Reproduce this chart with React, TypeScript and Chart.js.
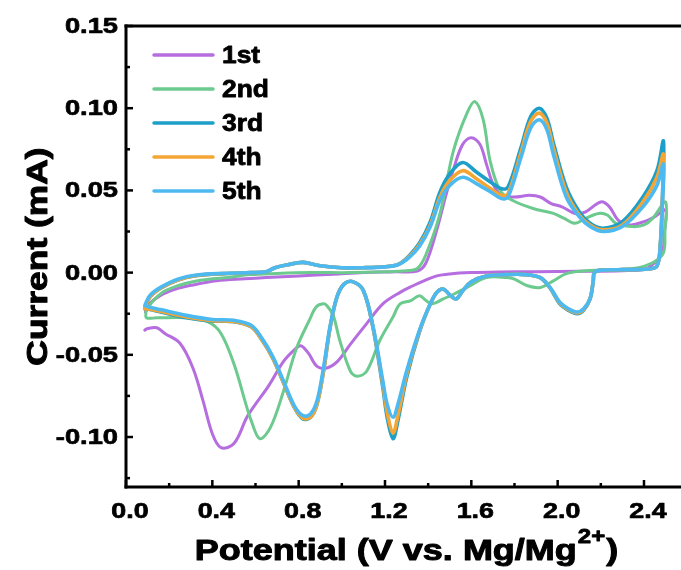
import React, { useEffect, useRef } from "react";
import { Chart, registerables } from "chart.js";

Chart.register(...registerables);

// ---------- axis ticks ----------
const xMajorTicks = [0.0, 0.4, 0.8, 1.2, 1.6, 2.0, 2.4];
const xTickLabels = ["0.0", "0.4", "0.8", "1.2", "1.6", "2.0", "2.4"];
const xMinorTicks = [0.2, 0.6, 1.0, 1.4, 1.8, 2.2];
const yMajorTicks = [-0.1, -0.05, 0.0, 0.05, 0.1, 0.15];
const yTickLabels = ["-0.10", "-0.05", "0.00", "0.05", "0.10", "0.15"];
const yMinorTicks = [-0.125, -0.075, -0.025, 0.025, 0.075, 0.125];

// ---------- series ----------
const seriesNames = ["1st", "2nd", "3rd", "4th", "5th"];
const seriesColors = ["#B56DDF", "#6DCA8E", "#1D9FC9", "#F4A534", "#4DB9F1"];

// 1st cycle
const cycle1Potential = [
  0.09, 0.1, 0.158, 0.23, 0.31, 0.42, 0.55, 0.65, 0.8, 0.96, 1.1, 1.25, 1.35, 1.39, 1.44, 1.48,
  1.52, 1.56, 1.6, 1.64, 1.67, 1.7, 1.74, 1.8, 1.87, 1.92, 1.97, 2.02, 2.08, 2.13, 2.2, 2.24,
  2.28, 2.335, 2.4, 2.45, 2.5, 2.495, 2.485, 2.45, 2.4, 2.3, 2.1, 1.9, 1.73, 1.6, 1.5, 1.44,
  1.38, 1.33, 1.27, 1.19, 1.115, 1.04, 0.98, 0.93, 0.885, 0.845, 0.81, 0.78, 0.73, 0.66,
  0.6, 0.56, 0.5, 0.44, 0.4, 0.357, 0.31, 0.25, 0.18, 0.143, 0.1, 0.087,
];
const cycle1Current = [
  -0.024, -0.02, -0.014, -0.01, -0.0075, -0.005, -0.0038, -0.003, -0.002, -0.001, 0.0, 0.0005,
  0.001, 0.006, 0.026, 0.046, 0.064, 0.078, 0.082, 0.078, 0.066, 0.054, 0.047, 0.046, 0.047,
  0.046, 0.042, 0.04, 0.036, 0.037, 0.043, 0.04, 0.032, 0.029, 0.031, 0.034, 0.038, 0.025,
  0.012, 0.006, 0.002, 0.0012, 0.0008, 0.0006, 0.0004, 0.0, -0.0008, -0.002, -0.005, -0.008,
  -0.012, -0.019, -0.031, -0.0435, -0.054, -0.058, -0.057, -0.049, -0.0445, -0.047, -0.054,
  -0.069, -0.08, -0.088, -0.104, -0.1065, -0.098, -0.078, -0.058, -0.043, -0.037, -0.0335,
  -0.034, -0.035,
];

// 2nd cycle
const cycle2Potential = [
  0.092, 0.12, 0.17, 0.24, 0.31, 0.4, 0.47, 0.575, 0.7, 0.85, 1.04, 1.2, 1.3, 1.35, 1.39, 1.455,
  1.517, 1.58, 1.617, 1.655, 1.687, 1.733, 1.79, 1.886, 1.98, 2.03, 2.08, 2.13, 2.19, 2.23,
  2.27, 2.35, 2.4, 2.44, 2.5, 2.497, 2.49, 2.44, 2.35, 2.2, 2.13, 2.04, 1.98, 1.92, 1.86, 1.8,
  1.765, 1.67, 1.58, 1.52, 1.47, 1.42, 1.39, 1.36, 1.32, 1.27, 1.237, 1.177, 1.115, 1.07, 1.04,
  0.99, 0.96, 0.93, 0.913, 0.88, 0.853, 0.79, 0.73, 0.67, 0.62, 0.58, 0.56, 0.5, 0.44, 0.38,
  0.28, 0.143, 0.095, 0.092,
];
const cycle2Current = [
  -0.024, -0.018, -0.012, -0.008, -0.0055, -0.0038, -0.003, -0.0012, -0.0005, 0.0, 0.0, 0.0005,
  0.0012, 0.0025, 0.011, 0.036, 0.074, 0.097, 0.104, 0.093, 0.068, 0.05, 0.044, 0.039, 0.036,
  0.033, 0.03, 0.033, 0.036, 0.035, 0.03, 0.028, 0.029, 0.033, 0.043, 0.025, 0.012, 0.006,
  0.0025, 0.0015, 0.0012, -0.0006, -0.005, -0.009, -0.008, -0.004, -0.003, -0.003, -0.009,
  -0.013, -0.016, -0.019, -0.017, -0.014, -0.017, -0.019, -0.027, -0.041, -0.06, -0.063, -0.06,
  -0.041, -0.026, -0.02, -0.019, -0.021, -0.028, -0.046, -0.072, -0.094, -0.101, -0.09, -0.082,
  -0.0555, -0.037, -0.03, -0.0275, -0.0275, -0.0275, -0.024,
];

// 3rd cycle
const cycle3Potential = [
  0.087, 0.11, 0.16, 0.24, 0.33, 0.45, 0.58, 0.65, 0.69, 0.75, 0.82, 0.9, 1.0, 1.1, 1.2, 1.26,
  1.31, 1.36, 1.41, 1.455, 1.5, 1.56, 1.625, 1.69, 1.74, 1.77, 1.83, 1.875, 1.915, 1.95, 1.98,
  2.04, 2.1, 2.15, 2.21, 2.3, 2.395, 2.46, 2.49, 2.485, 2.475, 2.46, 2.42, 2.3, 2.2, 2.17,
  2.165, 2.15, 2.12, 2.09, 2.05, 2.01, 1.965, 1.92, 1.85, 1.76, 1.67, 1.6, 1.56, 1.53, 1.5,
  1.47, 1.44, 1.41, 1.36, 1.3, 1.26, 1.237, 1.21, 1.19, 1.145, 1.1, 1.05, 1.01, 0.977, 0.945,
  0.915, 0.885, 0.855, 0.82, 0.78, 0.73, 0.68, 0.63, 0.58, 0.5, 0.4, 0.28, 0.16, 0.11, 0.087,
];
const cycle3Current = [
  -0.022, -0.015, -0.0095, -0.0045, -0.0018, -0.0006, 0.0, 0.0005, 0.003, 0.0048, 0.0062,
  0.0042, 0.003, 0.003, 0.0036, 0.005, 0.01, 0.018, 0.031, 0.049, 0.06, 0.067, 0.061, 0.055,
  0.051, 0.052, 0.076, 0.095, 0.1, 0.094, 0.079, 0.052, 0.037, 0.03, 0.027, 0.031, 0.046,
  0.062, 0.08, 0.045, 0.016, 0.004, 0.0022, 0.0018, 0.0015, 0.0, -0.005, -0.016, -0.023,
  -0.025, -0.023, -0.019, -0.0095, -0.0032, -0.0012, -0.0012, -0.002, -0.0055, -0.011, -0.016,
  -0.0135, -0.01, -0.012, -0.019, -0.036, -0.064, -0.09, -0.101, -0.088, -0.07, -0.034, -0.011,
  -0.0055, -0.007, -0.015, -0.034, -0.06, -0.08, -0.088, -0.089, -0.082, -0.067, -0.052, -0.041,
  -0.033, -0.0298, -0.0295, -0.0275, -0.024, -0.0225, -0.022,
];

// 4th cycle
const cycle4Potential = [
  0.087, 0.11, 0.16, 0.24, 0.33, 0.45, 0.58, 0.65, 0.69, 0.75, 0.82, 0.9, 1.0, 1.1, 1.2, 1.26,
  1.31, 1.36, 1.41, 1.455, 1.5, 1.56, 1.625, 1.69, 1.74, 1.77, 1.83, 1.875, 1.915, 1.95, 1.98,
  2.04, 2.1, 2.15, 2.21, 2.3, 2.395, 2.46, 2.49, 2.485, 2.475, 2.46, 2.42, 2.3, 2.2, 2.17,
  2.165, 2.15, 2.12, 2.09, 2.05, 2.01, 1.965, 1.92, 1.85, 1.76, 1.67, 1.6, 1.56, 1.53, 1.5,
  1.47, 1.44, 1.41, 1.36, 1.3, 1.26, 1.237, 1.21, 1.19, 1.145, 1.1, 1.05, 1.01, 0.977, 0.945,
  0.915, 0.885, 0.855, 0.82, 0.78, 0.73, 0.68, 0.63, 0.58, 0.5, 0.4, 0.28, 0.16, 0.11, 0.087,
];
const cycle4Current = [
  -0.022, -0.015, -0.0095, -0.0045, -0.0017, -0.0006, 0.0, 0.0005, 0.003, 0.0048, 0.0062,
  0.0042, 0.003, 0.003, 0.0036, 0.0049, 0.0095, 0.017, 0.029, 0.046, 0.056, 0.062, 0.057,
  0.051, 0.047, 0.048, 0.073, 0.092, 0.097, 0.091, 0.076, 0.049, 0.035, 0.029, 0.026, 0.029,
  0.043, 0.058, 0.072, 0.042, 0.015, 0.004, 0.0022, 0.0018, 0.0015, 0.0, -0.005, -0.016,
  -0.0225, -0.0245, -0.0225, -0.0185, -0.0092, -0.0031, -0.0012, -0.0012, -0.002, -0.0055,
  -0.011, -0.016, -0.0135, -0.01, -0.012, -0.019, -0.0355, -0.062, -0.087, -0.0975, -0.085,
  -0.068, -0.0335, -0.011, -0.0055, -0.007, -0.015, -0.034, -0.06, -0.08, -0.088, -0.0885,
  -0.082, -0.067, -0.052, -0.041, -0.033, -0.0297, -0.0292, -0.027, -0.0235, -0.0222, -0.022,
];

// 5th cycle
const cycle5Potential = [
  0.087, 0.11, 0.16, 0.24, 0.33, 0.45, 0.58, 0.65, 0.69, 0.75, 0.82, 0.9, 1.0, 1.1, 1.2, 1.26,
  1.31, 1.36, 1.41, 1.455, 1.5, 1.56, 1.625, 1.69, 1.74, 1.77, 1.83, 1.875, 1.915, 1.95, 1.98,
  2.04, 2.1, 2.15, 2.21, 2.3, 2.395, 2.46, 2.49, 2.485, 2.475, 2.46, 2.42, 2.3, 2.2, 2.17,
  2.165, 2.15, 2.12, 2.09, 2.05, 2.01, 1.965, 1.92, 1.85, 1.76, 1.67, 1.6, 1.56, 1.53, 1.5,
  1.47, 1.44, 1.41, 1.36, 1.3, 1.26, 1.237, 1.21, 1.19, 1.145, 1.1, 1.05, 1.01, 0.977, 0.945,
  0.915, 0.885, 0.855, 0.82, 0.78, 0.73, 0.68, 0.63, 0.58, 0.5, 0.4, 0.28, 0.16, 0.11, 0.087,
];
const cycle5Current = [
  -0.02, -0.014, -0.009, -0.004, -0.0015, -0.0005, 0.0, 0.0005, 0.003, 0.0048, 0.0062, 0.0042,
  0.003, 0.003, 0.0035, 0.0048, 0.009, 0.016, 0.028, 0.044, 0.053, 0.058, 0.054, 0.049, 0.045,
  0.046, 0.07, 0.088, 0.093, 0.087, 0.072, 0.046, 0.034, 0.028, 0.025, 0.028, 0.04, 0.053,
  0.066, 0.04, 0.015, 0.004, 0.0022, 0.0018, 0.0015, 0.0, -0.005, -0.016, -0.022, -0.024,
  -0.022, -0.018, -0.009, -0.003, -0.0012, -0.0012, -0.002, -0.0055, -0.011, -0.016, -0.0135,
  -0.01, -0.012, -0.019, -0.035, -0.06, -0.08, -0.088, -0.08, -0.066, -0.033, -0.011, -0.0055,
  -0.007, -0.015, -0.033, -0.058, -0.078, -0.086, -0.087, -0.081, -0.066, -0.051, -0.04,
  -0.032, -0.029, -0.0285, -0.026, -0.0225, -0.021, -0.02,
];

const potentials = [cycle1Potential, cycle2Potential, cycle3Potential, cycle4Potential, cycle5Potential];
const currents = [cycle1Current, cycle2Current, cycle3Current, cycle4Current, cycle5Current];

const X_MIN = 0.0;
const X_MAX = 2.5715;
const Y_MIN = -0.1304;
const Y_MAX = 0.15;

const FONT = "'Liberation Sans', Arial, Helvetica, sans-serif";

function drawStretched(
  ctx: CanvasRenderingContext2D,
  text: string,
  x: number,
  y: number,
  sx: number,
  align: "left" | "center" | "right",
  weight = 0.7
) {
  const w = ctx.measureText(text).width * sx;
  let left = x;
  if (align === "center") left = x - w / 2;
  else if (align === "right") left = x - w;
  ctx.save();
  ctx.translate(left, y);
  ctx.scale(sx, 1);
  ctx.textAlign = "left";
  ctx.fillText(text, 0, 0);
  if (weight > 0) {
    ctx.lineWidth = weight;
    ctx.strokeStyle = ctx.fillStyle as string;
    ctx.lineJoin = "round";
    ctx.strokeText(text, 0, 0);
  }
  ctx.restore();
  return w;
}

const decorPlugin = {
  id: "decor",
  afterDraw(chart: any) {
    const ctx: CanvasRenderingContext2D = chart.ctx;
    const area = chart.chartArea;
    const xs = chart.scales.x;
    const ys = chart.scales.y;
    ctx.save();
    ctx.strokeStyle = "#000";
    ctx.fillStyle = "#000";
    ctx.lineCap = "butt";

    // axis frame lines (left, bottom, top)
    ctx.lineWidth = 3;
    ctx.beginPath();
    ctx.moveTo(area.left, area.top - 1.5);
    ctx.lineTo(area.left, area.bottom + 1.5);
    ctx.stroke();
    ctx.beginPath();
    ctx.moveTo(area.left - 1.5, area.bottom);
    ctx.lineTo(area.right + 2, area.bottom);
    ctx.stroke();
    ctx.beginPath();
    ctx.moveTo(area.left - 1.5, area.top);
    ctx.lineTo(area.right + 2, area.top);
    ctx.stroke();

    // inward ticks
    ctx.lineWidth = 2.5;
    xMajorTicks.forEach((v) => {
      const px = xs.getPixelForValue(v);
      ctx.beginPath();
      ctx.moveTo(px, area.bottom);
      ctx.lineTo(px, area.bottom - 7);
      ctx.stroke();
    });
    xMinorTicks.forEach((v) => {
      const px = xs.getPixelForValue(v);
      ctx.beginPath();
      ctx.moveTo(px, area.bottom);
      ctx.lineTo(px, area.bottom - 4);
      ctx.stroke();
    });
    yMajorTicks.forEach((v) => {
      const py = ys.getPixelForValue(v);
      ctx.beginPath();
      ctx.moveTo(area.left, py);
      ctx.lineTo(area.left + 7, py);
      ctx.stroke();
    });
    yMinorTicks.forEach((v) => {
      const py = ys.getPixelForValue(v);
      ctx.beginPath();
      ctx.moveTo(area.left, py);
      ctx.lineTo(area.left + 4, py);
      ctx.stroke();
    });

    // tick labels
    ctx.font = `bold 22px ${FONT}`;
    ctx.textBaseline = "middle";
    xMajorTicks.forEach((v, i) => {
      const px = xs.getPixelForValue(v);
      drawStretched(ctx, xTickLabels[i], px + 4, area.bottom + 25, 1.22, "center");
    });
    yMajorTicks.forEach((v, i) => {
      const py = ys.getPixelForValue(v);
      drawStretched(ctx, yTickLabels[i], area.left - 8, py + 1, 1.24, "right");
    });

    // x axis title with superscript
    ctx.textBaseline = "alphabetic";
    const mainFont = `bold 30px ${FONT}`;
    const supFont = `bold 20px ${FONT}`;
    const sx = 1.2;
    const partA = "Potential (V vs. Mg/Mg";
    const partSup = "2+";
    const partB = ")";
    ctx.font = mainFont;
    const wA = ctx.measureText(partA).width * sx;
    const wB = ctx.measureText(partB).width * sx;
    ctx.font = supFont;
    const wS = ctx.measureText(partSup).width * sx;
    const total = wA + wS + wB + 2;
    const cx = (area.left + area.right) / 2 + 3;
    let start = cx - total / 2;
    const baseY = 560;
    ctx.font = mainFont;
    drawStretched(ctx, partA, start, baseY, sx, "left", 1);
    start += wA + 1;
    ctx.font = supFont;
    drawStretched(ctx, partSup, start, baseY - 17, sx, "left", 0.8);
    start += wS + 1;
    ctx.font = mainFont;
    drawStretched(ctx, partB, start, baseY, sx, "left", 1);

    // y axis title
    ctx.save();
    ctx.translate(47, (area.top + area.bottom) / 2);
    ctx.rotate(-Math.PI / 2);
    ctx.font = mainFont;
    drawStretched(ctx, "Current (mA)", 0, 0, 1.18, "center", 1);
    ctx.restore();

    // legend
    ctx.font = `bold 24px ${FONT}`;
    ctx.textBaseline = "middle";
    seriesNames.forEach((name, i) => {
      const y = 55 + i * 34;
      ctx.strokeStyle = seriesColors[i];
      ctx.lineWidth = 3.5;
      ctx.lineCap = "round";
      ctx.beginPath();
      ctx.moveTo(area.left + 28, y);
      ctx.lineTo(area.left + 87, y);
      ctx.stroke();
      ctx.fillStyle = "#000";
      drawStretched(ctx, name, area.left + 96, y + 1, 1.1, "left", 0.8);
    });

    ctx.restore();
  },
};

export default function App() {
  const canvasRef = useRef<HTMLCanvasElement | null>(null);

  useEffect(() => {
    const canvas = canvasRef.current;
    if (!canvas) return;
    const datasets = seriesNames.map((name, i) => ({
      label: name,
      data: potentials[i].map((v, k) => ({ x: v, y: currents[i][k] })),
      showLine: true,
      borderColor: seriesColors[i],
      backgroundColor: seriesColors[i],
      borderWidth: i >= 2 ? 3.6 : 3,
      pointRadius: 0,
      pointHoverRadius: 0,
      tension: 0.35,
      fill: false,
      borderJoinStyle: "round" as const,
      borderCapStyle: "round" as const,
      order: seriesNames.length - 1 - i,
    }));
    const chart = new Chart(canvas, {
      type: "scatter",
      data: { datasets },
      options: {
        responsive: false,
        animation: false,
        devicePixelRatio: 1,
        layout: { padding: { left: 126, top: 26, right: 0, bottom: 83 } },
        scales: {
          x: { type: "linear", min: X_MIN, max: X_MAX, display: false },
          y: { type: "linear", min: Y_MIN, max: Y_MAX, display: false },
        },
        plugins: {
          legend: { display: false },
          tooltip: { enabled: false },
        },
        events: [],
      },
      plugins: [decorPlugin],
    });
    return () => chart.destroy();
  }, []);

  return (
    <div style={{ position: "fixed", left: 0, top: 0, width: 681, height: 570, background: "#fff" }}>
      <canvas ref={canvasRef} width={681} height={570} style={{ display: "block" }} />
    </div>
  );
}
